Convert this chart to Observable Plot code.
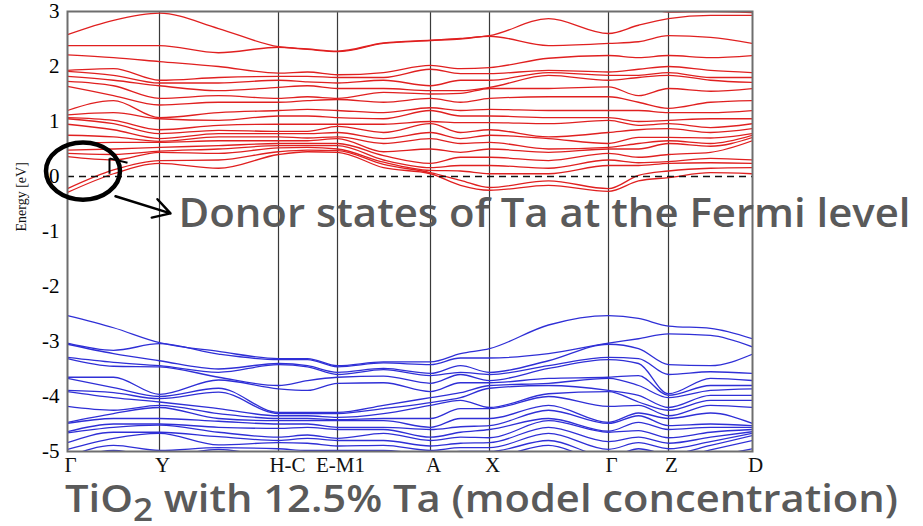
<!DOCTYPE html>
<html><head><meta charset="utf-8">
<script src="https://cdn.jsdelivr.net/npm/d3@7"></script>
<script src="https://cdn.jsdelivr.net/npm/@observablehq/plot@0.6"></script>
<style>body{margin:0;background:#fff;} #chart svg{display:block;}</style>
</head><body><div id="chart"></div>
<script>
// high-symmetry points along the k-path
const kLabels = ["Γ", "Y", "H-C", "E-M1", "A", "X", "Γ", "Z", "D"];
const kPos = [0, 92, 211, 270, 363, 422, 541, 601, 685];
// k positions at which the bands were read
const kSample = [0, 46, 92, 151, 211, 240, 270, 316, 363, 393, 422, 481, 541, 571, 601, 643, 685];
const yTicks = [-5, -4, -3, -2, -1, 0, 1, 2, 3];

// conduction bands (eV), one list per sampled k position
const cb0  = [-0.29, -0.22, 0.36, 0.42, 0.48, 0.6, 0.75, 0.95, 1.05, 1.07, 1.12, 1.2, 1.64, 1.73, 1.82, 1.91, 1.93, 2.21, 2.38, 2.58];
const cb1  = [0.05, 0.12, 0.3, 0.4, 0.5, 0.62, 0.72, 0.85, 0.96, 1.02, 1.16, 1.38, 1.47, 1.65, 1.75, 1.84, 1.96, 2.16, 2.38, 2.84];
const cb2  = [0.24, 0.29, 0.44, 0.46, 0.53, 0.62, 0.64, 0.69, 0.78, 0.85, 1.05, 1.07, 1.3, 1.42, 1.65, 1.7, 1.75, 2.09, 2.38, 2.97];
const cb3  = [0.15, 0.3, 0.42, 0.5, 0.56, 0.65, 0.72, 0.78, 0.84, 0.93, 1.02, 1.16, 1.35, 1.47, 1.56, 1.7, 1.8, 2.0, 2.25, 2.69];
const cb4  = [0.4, 0.45, 0.52, 0.56, 0.6, 0.65, 0.72, 0.78, 0.82, 0.95, 1.1, 1.2, 1.35, 1.42, 1.62, 1.75, 1.82, 1.88, 2.35, 2.36];
const cb5  = [0.45, 0.48, 0.53, 0.56, 0.6, 0.65, 0.7, 0.78, 0.82, 0.95, 1.1, 1.22, 1.38, 1.45, 1.65, 1.72, 1.82, 1.9, 2.31, 2.32];
const cb6  = [0.44, 0.47, 0.5, 0.56, 0.6, 0.69, 0.72, 0.8, 0.91, 0.95, 1.07, 1.2, 1.4, 1.42, 1.6, 1.7, 1.8, 1.85, 2.27, 2.28];
const cb7  = [0.16, 0.22, 0.26, 0.3, 0.38, 0.45, 0.6, 0.69, 0.8, 0.95, 1.05, 1.16, 1.35, 1.53, 1.6, 1.75, 1.8, 1.89, 2.42, 2.43];
const cb8  = [0.05, 0.07, 0.11, 0.16, 0.24, 0.5, 0.69, 0.8, 0.96, 1.0, 1.2, 1.25, 1.42, 1.5, 1.56, 1.65, 1.95, 2.02, 2.47, 2.48];
const cb9  = [-0.16, -0.07, 0.1, 0.2, 0.35, 0.44, 0.6, 0.69, 0.8, 0.98, 1.1, 1.2, 1.35, 1.51, 1.56, 1.75, 1.87, 1.96, 2.5, 2.51];
const cb10 = [-0.25, -0.2, 0.05, 0.2, 0.35, 0.5, 0.62, 0.75, 0.85, 0.98, 1.1, 1.22, 1.42, 1.6, 1.62, 1.75, 1.87, 1.98, 2.55, 2.56];
const cb11 = [-0.16, -0.08, 0.05, 0.15, 0.29, 0.44, 0.5, 0.69, 0.72, 0.96, 1.07, 1.2, 1.45, 1.6, 1.84, 1.89, 1.93, 2.15, 2.38, 2.87];
const cb12 = [-0.27, -0.22, 0.2, 0.3, 0.42, 0.5, 0.53, 0.6, 0.8, 1.02, 1.07, 1.2, 1.45, 1.63, 1.75, 1.84, 1.9, 2.2, 2.42, 2.6];
const cb13 = [-0.08, 0.02, 0.2, 0.25, 0.35, 0.5, 0.6, 0.71, 0.85, 0.93, 1.0, 1.2, 1.35, 1.47, 1.8, 1.84, 1.95, 2.16, 2.45, 2.75];
const cb14 = [-0.02, 0.1, 0.24, 0.27, 0.4, 0.6, 0.65, 0.71, 0.87, 0.96, 1.02, 1.16, 1.24, 1.6, 1.84, 1.89, 2.0, 2.2, 2.56, 2.87];
const cb15 = [0.07, 0.15, 0.25, 0.33, 0.44, 0.55, 0.6, 0.7, 0.8, 0.89, 1.05, 1.16, 1.35, 1.55, 1.75, 1.8, 1.93, 2.16, 2.53, 2.93];
const cb16 = [0.05, 0.16, 0.24, 0.3, 0.65, 0.71, 0.75, 0.78, 0.87, 0.96, 1.05, 1.2, 1.38, 1.6, 1.71, 1.8, 1.89, 2.2, 2.42, 2.93];
const cbTop = [3.4, 3.3, 3.3, 3.3, 3.3, 3.3, 3.3, 3.3, 3.3, 3.3, 3.3, 3.3, 3.3, 3.12, 2.99, 3.0, 2.98];

// valence bands (eV), one list per sampled k position
const vb0  = [-2.53, -3.03, -3.05, -3.29, -3.31, -3.65, -3.67, -3.89, -3.91, -4.18, -4.47, -4.49, -4.64, -4.66, -4.84, -4.96, -5.1, -5.2, -5.3, -5.4];
const vb1  = [-2.75, -3.16, -3.22, -3.38, -3.45, -3.65, -3.84, -3.93, -4.02, -4.25, -4.31, -4.4, -4.5, -4.56, -4.65, -4.76, -4.89, -4.98, -5.1, -5.2];
const vb2  = [-3.02, -3.04, -3.35, -3.44, -3.46, -3.96, -4.0, -4.04, -4.1, -4.16, -4.2, -4.4, -4.5, -4.52, -4.65, -4.67, -4.98, -5.1, -5.2, -5.3];
const vb3  = [-3.18, -3.23, -3.5, -3.56, -3.65, -3.7, -3.85, -3.92, -4.22, -4.31, -4.4, -4.45, -4.56, -4.65, -4.73, -4.88, -4.93, -4.96, -5.1, -5.2];
const vb4  = [-3.31, -3.33, -3.4, -3.42, -3.8, -3.86, -4.29, -4.31, -4.35, -4.4, -4.44, -4.5, -4.58, -4.74, -4.8, -4.84, -4.95, -5.1, -5.2, -5.3];
const vb5  = [-3.31, -3.33, -3.44, -3.46, -3.71, -3.89, -4.29, -4.31, -4.35, -4.4, -4.44, -4.5, -4.56, -4.7, -4.76, -4.85, -4.98, -5.1, -5.2, -5.3];
const vb6  = [-3.44, -3.46, -3.56, -3.6, -3.65, -3.76, -4.29, -4.31, -4.38, -4.42, -4.44, -4.56, -4.6, -4.76, -4.8, -4.9, -4.98, -5.1, -5.2, -5.3];
const vb7  = [-3.37, -3.39, -3.49, -3.51, -3.63, -3.75, -4.16, -4.22, -4.31, -4.4, -4.44, -4.56, -4.6, -4.67, -4.8, -4.89, -4.98, -5.1, -5.2, -5.3];
const vb8  = [-3.37, -3.42, -3.58, -3.62, -3.76, -3.91, -4.02, -4.11, -4.16, -4.4, -4.56, -4.6, -4.74, -4.8, -4.9, -4.98, -5.05, -5.1, -5.2, -5.3];
const vb9  = [-3.22, -3.3, -3.44, -3.56, -3.6, -3.75, -3.93, -4.02, -4.07, -4.22, -4.4, -4.55, -4.65, -4.74, -4.85, -4.93, -5.0, -5.1, -5.2, -5.3];
const vb10 = [-3.13, -3.3, -3.56, -3.6, -3.71, -3.75, -3.8, -3.85, -4.2, -4.22, -4.4, -4.53, -4.6, -4.75, -4.84, -4.93, -5.0, -5.1, -5.2, -5.3];
const vb11 = [-2.7, -3.22, -3.35, -3.44, -3.49, -3.67, -3.76, -3.8, -3.95, -4.0, -4.16, -4.25, -4.4, -4.44, -4.56, -4.67, -4.8, -4.89, -5.05, -5.2];
const vb12 = [-2.53, -3.03, -3.05, -3.29, -3.33, -3.65, -3.67, -3.89, -3.91, -4.18, -4.47, -4.49, -4.63, -4.65, -4.82, -4.96, -5.1, -5.2, -5.3, -5.4];
const vb13 = [-2.58, -2.95, -3.13, -3.31, -3.4, -3.62, -3.8, -3.98, -4.1, -4.16, -4.3, -4.35, -4.47, -4.62, -4.74, -4.84, -4.95, -5.1, -5.2, -5.3];
const vb14 = [-2.72, -2.86, -3.42, -3.6, -3.95, -3.98, -4.02, -4.2, -4.25, -4.35, -4.4, -4.53, -4.6, -4.75, -4.85, -4.95, -5.05, -5.15, -5.25, -5.35];
const vb15 = [-2.76, -2.89, -3.44, -3.55, -3.67, -3.8, -3.89, -3.98, -4.07, -4.16, -4.3, -4.5, -4.56, -4.65, -4.74, -4.82, -4.89, -4.97, -5.1, -5.2];
const vb16 = [-2.95, -3.1, -3.23, -3.58, -3.71, -3.8, -3.86, -3.98, -4.07, -4.2, -4.49, -4.53, -4.56, -4.6, -4.64, -4.67, -4.71, -4.8, -4.95, -5.1];

// annotation
const annotationText = "Donor states of Ta at the Fermi level";
const annotationAt = {k: 111, E: -0.7};
const ellipseAt = {k: 16, E: 0.09, rk: 37, rE: 0.52};
const arrowAt = {k1: 48, E1: -0.36, k2: 103, E2: -0.67};
const tickMarkAt = {k: 42, E1: 0.33, E2: 0.05, k3: 60, E3: 0.25};
const captionParts = ["TiO", "2", " with 12.5% Ta (model concentration)"];

const cbCols = [cb0, cb1, cb2, cb3, cb4, cb5, cb6, cb7, cb8, cb9, cb10, cb11, cb12, cb13, cb14, cb15, cb16];
const vbCols = [vb0, vb1, vb2, vb3, vb4, vb5, vb6, vb7, vb8, vb9, vb10, vb11, vb12, vb13, vb14, vb15, vb16];

function toRows(cols, prefix) {
  const rows = [];
  cols.forEach((col, j) => {
    const s = [...col].sort((a, b) => a - b);
    s.forEach((E, i) => rows.push({band: prefix + i, k: kSample[j], E}));
  });
  return rows;
}
const condRows = toRows(cbCols, "c").concat(cbTop.map((E, j) => ({band: "ctop", k: kSample[j], E})));
const valRows = toRows(vbCols, "v");
const kRows = kLabels.map((label, i) => ({label, k: kPos[i]}));

const serif = "'Liberation Serif', 'DejaVu Serif', serif";
const sans = "'Open Sans', 'DejaVu Sans', sans-serif";
const gray = "#5a5a5a";

const plot = Plot.plot({
  width: 923, height: 526,
  marginLeft: 67, marginRight: 171, marginTop: 11, marginBottom: 75,
  x: {domain: [0, 685], axis: null},
  y: {domain: [-5, 3], axis: null},
  style: {background: "white", overflow: "visible"},
  marks: [
    Plot.ruleX(kPos.slice(1, -1), {stroke: "#3a3a3a", strokeWidth: 1.2}),
    Plot.line(condRows, {x: "k", y: "E", z: "band", stroke: "#e02020", strokeWidth: 1.3, curve: "monotone-x", clip: true}),
    Plot.line(valRows, {x: "k", y: "E", z: "band", stroke: "#2f2fd6", strokeWidth: 1.3, curve: "monotone-x", clip: true}),
    Plot.ruleY([0], {stroke: "#111", strokeWidth: 1.3, strokeDasharray: "7,5"}),
    Plot.frame({stroke: "#6e6e6e", strokeWidth: 2}),
    Plot.axisY({ticks: yTicks, tickSize: 0, tickPadding: 8, fontSize: 21, fontFamily: serif, label: null, tickFormat: d => String(d)}),
    Plot.text(["Energy [eV]"], {frameAnchor: "left", rotate: -90, dx: -46, fontSize: 14, fontFamily: serif, fill: "#111"}),
    Plot.text(kRows.filter(d => d.label !== "H-C"), {x: "k", text: "label", frameAnchor: "bottom", lineAnchor: "top", dy: 6, dx: 3, fontSize: 21, fontFamily: serif, fill: "#111"}),
    Plot.text(kRows.filter(d => d.label === "H-C"), {x: "k", text: "label", frameAnchor: "bottom", lineAnchor: "top", dy: 6, dx: 9, fontSize: 21, fontFamily: serif, fill: "#111"}),
    Plot.arrow([arrowAt], {x1: "k1", y1: "E1", x2: "k2", y2: "E2", stroke: "#000", strokeWidth: 2.5, headLength: 14}),
    Plot.link([tickMarkAt], {x1: "k", y1: "E1", x2: "k", y2: "E2", stroke: "#000", strokeWidth: 2}),
    Plot.link([tickMarkAt], {x1: "k", y1: "E1", x2: "k3", y2: "E3", stroke: "#000", strokeWidth: 2}),
    Plot.text([annotationAt], {x: "k", y: "E", text: () => annotationText, textAnchor: "start", lineAnchor: "middle", fontSize: 39, fontWeight: 600, fontFamily: sans, fill: gray})
  ]
});

const sx = plot.scale("x"), sy = plot.scale("y");
const svg = d3.select(plot);
svg.selectAll("text").filter(function() { return this.textContent === annotationText; })
  .attr("textLength", 732).attr("lengthAdjust", "spacingAndGlyphs");

svg.append("ellipse")
  .attr("cx", sx.apply(ellipseAt.k))
  .attr("cy", sy.apply(ellipseAt.E))
  .attr("rx", sx.apply(ellipseAt.k + ellipseAt.rk) - sx.apply(ellipseAt.k))
  .attr("ry", sy.apply(ellipseAt.E - ellipseAt.rE) - sy.apply(ellipseAt.E))
  .attr("fill", "none").attr("stroke", "#000").attr("stroke-width", 4.5);

const cap = svg.append("text")
  .attr("x", sx.apply(0) - 2).attr("y", 512)
  .attr("text-anchor", "start")
  .attr("font-family", sans).attr("font-weight", 600).attr("font-size", 38).attr("fill", gray)
  .attr("textLength", 833).attr("lengthAdjust", "spacingAndGlyphs");
cap.append("tspan").text(captionParts[0]);
cap.append("tspan").attr("dy", 9).attr("font-size", 32).text(captionParts[1]);
cap.append("tspan").attr("dy", -9).text(captionParts[2]);

document.getElementById("chart").append(plot);
</script>
</body></html>
